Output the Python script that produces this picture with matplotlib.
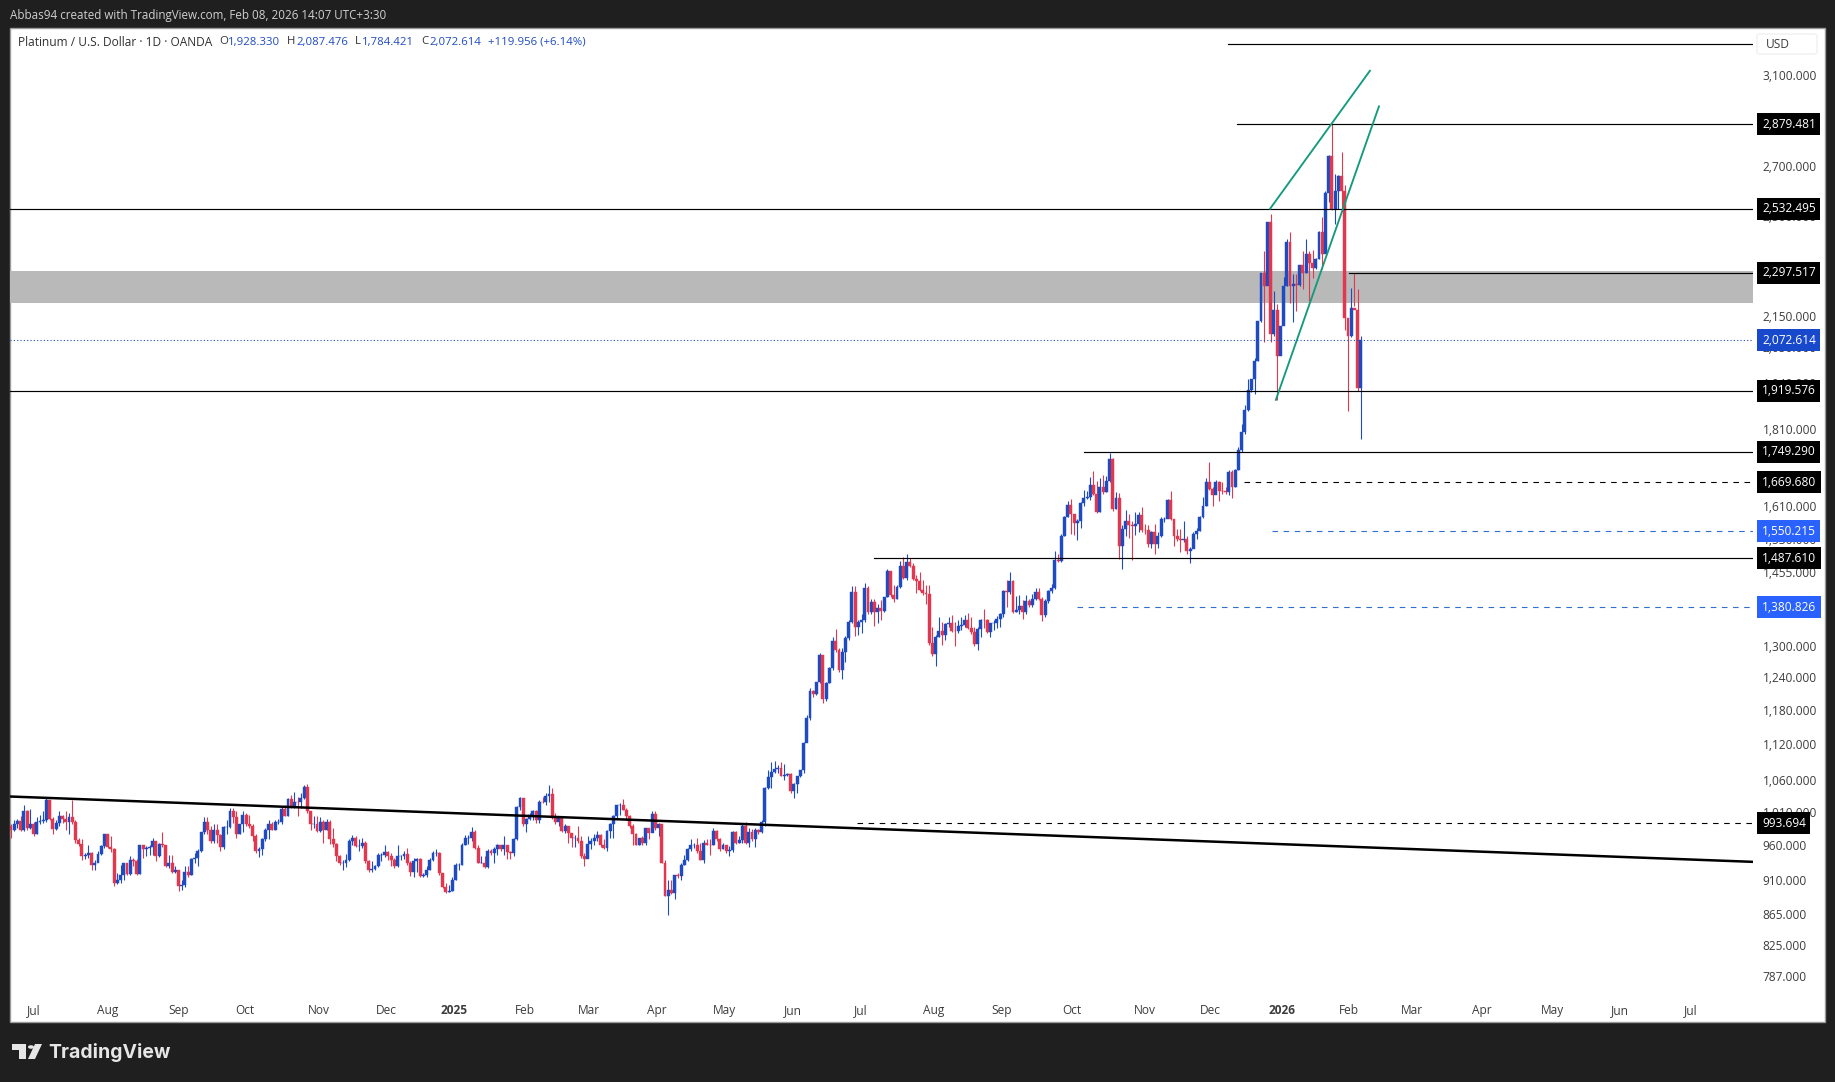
import matplotlib
matplotlib.use("Agg")
import matplotlib.pyplot as plt
from matplotlib.patches import Rectangle, Polygon, Circle, FancyBboxPatch
from matplotlib.ticker import NullLocator
from matplotlib.transforms import ScaledTranslation

# candles (one value per trading day)
closes = [
    984,992,997,983,1012,987,993,978,996,997,
    998,1029,1000,985,994,1005,1000,996,1003,996,
    968,963,945,947,949,933,935,948,960,977,
    959,956,908,911,919,935,920,940,938,920,
    961,956,957,959,967,946,963,961,931,936,
    923,926,903,905,923,919,941,942,953,980,
    996,983,967,984,976,959,988,988,1012,1003,
    978,992,1006,992,989,974,952,955,970,984,
    993,984,995,996,1015,1005,1031,1020,1027,1026,
    1033,1050,1012,992,992,982,996,984,996,970,
    963,945,935,936,939,967,972,960,960,964,
    938,925,927,931,947,947,951,945,939,931,
    945,945,948,936,922,938,941,917,919,926,
    940,950,950,921,902,895,896,
    912,933,933,962,971,971,980,957,936,936,
    930,953,950,956,961,956,961,951,950,970,
    1018,1033,992,1000,1006,1012,998,1027,1026,1036,
    1039,1002,996,1003,982,989,979,971,971,967,
    945,941,963,967,971,976,962,957,982,992,
    1005,1021,1022,1014,1004,990,977,962,971,964,
    987,979,1008,987,992,936,890,898,894,919,
    917,933,939,955,961,962,952,940,964,962,
    961,982,970,956,961,953,954,981,965,968,
    989,965,981,970,983,981,996,1048,1066,1075,
    1079,1081,1068,1070,1071,1043,1055,1067,1078,
    1122,1166,1216,1210,1232,1284,1200,1230,1258,1311,
    1294,1254,1290,1318,1350,1414,1339,1350,1354,1421,
    1371,1392,1371,1378,1373,1402,1459,1407,1399,1424,
    1471,1444,1479,1471,1442,1437,1418,1410,1409,1307,
    1286,1320,1332,1323,1345,1347,1332,1331,1341,1343,
    1355,1337,1330,1305,1335,1354,1353,1330,1347,1348,
    1357,1366,1416,1414,1437,1371,1374,1383,1371,1394,
    1385,1397,1414,1399,1364,1394,1416,1421,1483,1482,
    1539,1585,1613,1590,1569,1574,1619,1630,1633,1664,
    1641,1595,1657,1645,1672,1730,1603,1630,1516,1556,
    1574,1564,1563,1568,1588,1553,1552,1521,1547,1520,
    1539,1579,1580,1625,1579,1539,1531,1530,1531,1505,
    1509,1543,1550,1583,1611,1670,1653,1637,1670,1649,
    1648,1645,1696,1658,1702,1753,1802,1864,1923,1953,
    2009,2135,2297,2252,2482,2092,2172,2025,2119,2252,
    2407,2252,2258,2255,2323,2297,2362,2332,2315,2344,
    2443,2362,2594,2743,2533,2600,2660,2600,2145,2087,
    2178,2170,1928.33,2072.614,
]
highs = [
    992,999,1000,1004,1022,1014,1015,995,1003,1006,
    1013,1035,1029,1003,999,1012,1006,1012,1010,1029,
    999,972,970,950,962,951,940,952,962,978,
    977,975,957,921,932,936,936,946,942,941,
    962,959,960,962,972,967,965,980,962,947,
    947,931,926,912,931,931,942,950,956,981,
    1003,1003,989,992,992,978,989,998,1017,1017,
    1012,992,1012,1009,1006,992,977,959,972,987,
    999,996,999,1000,1020,1022,1033,1038,1042,1035,
    1040,1054,1055,1012,1004,1004,1003,999,1000,999,
    987,964,947,940,948,970,976,975,970,972,
    967,940,938,932,950,950,961,953,950,942,
    961,947,952,957,938,942,942,942,921,931,
    942,953,955,951,921,907,904,
    915,936,936,964,976,976,988,984,962,945,
    945,956,956,959,963,962,974,957,952,971,
    1020,1034,1031,1002,1010,1014,1014,1030,1034,1040,
    1054,1048,1009,1005,1003,992,990,979,976,989,
    975,950,974,971,977,982,977,970,983,994,
    1006,1022,1025,1031,1017,1006,992,979,972,975,
    987,987,1012,1012,994,982,940,912,912,919,
    921,935,947,957,970,964,971,964,968,970,
    970,987,983,972,964,962,960,982,982,975,
    992,996,987,985,987,985,999,1050,1078,1091,
    1092,1086,1090,1088,1073,1072,1056,1068,1078,
    1125,1172,1220,1218,1232,1287,1284,1233,1261,1320,
    1335,1297,1297,1321,1354,1426,1426,1354,1367,1433,
    1426,1397,1397,1388,1395,1403,1464,1457,1428,1428,
    1481,1490,1497,1488,1477,1449,1457,1439,1428,1428,
    1340,1323,1361,1350,1347,1361,1364,1350,1354,1361,
    1364,1369,1361,1340,1339,1357,1376,1357,1348,1354,
    1362,1369,1417,1439,1457,1439,1405,1407,1395,1407,
    1397,1409,1421,1421,1403,1397,1417,1431,1505,1498,
    1543,1587,1624,1628,1587,1579,1621,1650,1649,1683,
    1699,1674,1681,1689,1687,1745,1733,1645,1642,1564,
    1601,1590,1575,1597,1597,1609,1568,1564,1551,1568,
    1547,1585,1585,1627,1649,1579,1556,1556,1575,1539,
    1514,1547,1558,1587,1633,1681,1722,1657,1676,1674,
    1670,1658,1700,1700,1704,1761,1825,1878,1953,1955,
    2016,2135,2297,2373,2482,2512,2235,2189,2119,2281,
    2419,2443,2291,2291,2323,2373,2419,2376,2379,2350,
    2449,2500,2601,2750,2879,2670,2665,2760,2627,2145,
    2246,2297,2240,2087.476,
]
lows = [
    971,982,987,982,982,984,985,974,977,992,
    994,996,998,978,983,989,994,984,978,992,
    964,960,940,941,942,926,925,938,947,957,
    957,951,903,906,908,912,919,919,931,919,
    920,942,945,947,947,938,944,959,930,928,
    921,921,897,898,902,916,919,936,931,951,
    977,978,964,964,965,952,955,977,987,994,
    972,978,980,989,987,967,950,944,947,967,
    970,983,984,992,993,1004,1004,1017,1017,1004,
    1017,1031,1010,984,987,980,980,964,984,963,
    959,938,933,926,930,938,962,959,953,957,
    936,923,923,925,930,938,944,940,931,928,
    930,940,941,933,917,916,923,916,915,915,
    925,938,945,919,900,894,895,
    896,911,926,932,961,963,967,956,936,935,
    928,928,947,936,947,953,947,941,941,946,
    969,1014,989,981,998,999,994,994,1025,1022,
    1026,1000,992,990,980,979,965,959,959,964,
    942,931,942,956,962,967,959,956,952,972,
    972,1002,1006,1014,999,987,962,961,961,962,
    962,970,980,984,974,935,889,864,892,885,
    914,911,933,938,952,957,950,939,936,961,
    947,962,967,952,955,950,945,951,963,964,
    965,963,959,967,959,977,979,990,1047,1048,
    1072,1073,1067,1062,1067,1040,1033,1041,1066,
    1073,1131,1163,1205,1208,1230,1193,1197,1230,1254,
    1290,1251,1237,1271,1313,1347,1321,1323,1327,1350,
    1367,1367,1342,1347,1354,1371,1403,1403,1392,1399,
    1421,1442,1440,1467,1439,1410,1416,1407,1388,1303,
    1281,1263,1320,1303,1313,1340,1330,1301,1328,1334,
    1340,1335,1325,1301,1294,1320,1337,1327,1320,1334,
    1337,1339,1361,1381,1409,1369,1371,1367,1357,1366,
    1381,1381,1395,1395,1352,1361,1390,1411,1419,1479,
    1479,1539,1583,1543,1542,1529,1558,1611,1627,1626,
    1637,1593,1597,1641,1645,1670,1599,1603,1486,1464,
    1539,1535,1484,1542,1549,1549,1543,1512,1510,1497,
    1510,1537,1571,1582,1577,1516,1528,1501,1524,1497,
    1477,1510,1531,1550,1581,1611,1651,1611,1641,1624,
    1641,1641,1637,1630,1658,1700,1749,1797,1860,1917,
    1909,2009,2130,2068,2362,2068,2087,1893,2040,2135,
    2252,2195,2130,2168,2252,2240,2297,2201,2279,2310,
    2344,2310,2436,2560,2527,2475,2533,2533,2104,1860,
    2082,2183,1920,1784.421,
]
opens = [990] + closes[:-1]

price_ticks = [3100, 2880, 2700, 2500, 2150, 2050, 1940, 1810, 1680, 1610, 1530, 1455,
               1380, 1300, 1240, 1180, 1120, 1060, 1010, 960, 910, 865, 825, 787]
month_pos = [7.1, 29.9, 51.9, 72.7, 95.7, 116.4, 137.4, 159.4, 179.4, 200.4, 221.4, 242.8, 263.9,
             286.4, 307.4, 329.4, 352, 372.4, 394.4, 415.4, 434.9, 456.4, 478.4, 499.4, 521.4]
month_names = ["Jul", "Aug", "Sep", "Oct", "Nov", "Dec", "2025", "Feb", "Mar", "Apr", "May", "Jun",
               "Jul", "Aug", "Sep", "Oct", "Nov", "Dec", "2026", "Feb", "Mar", "Apr", "May", "Jun", "Jul"]

# horizontal drawings: price, first candle, style
solid_levels = [(3252, 377.7), (2879.481, 380.5), (2532.495, -0.3), (2297.517, 415.3),
                (1919.576, -0.3), (1749.290, 333), (1487.610, 268)]
black_dashed = [(1669.680, 382.7), (993.694, 262.6)]
blue_dashed = [(1550.215, 391.4), (1380.826, 331)]
last_price = 2072.614
zone = (2193, 2302)
trend_x, trend_y = [-0.3, 540.7], [1035, 937]
wedge_upper_x, wedge_upper_y = [390.8, 421.8], [2532, 3124]
wedge_lower_x, wedge_lower_y = [392.6, 424.6], [1893, 2959]

black_tags = [2879.481, 2532.495, 2297.517, 1919.576, 1749.290, 1669.680, 1487.610, 993.694]
blue_tags = [1550.215, 1380.826]

BLUE = "#1f4bc0"
RED = "#e2384f"
W, H = 1835, 1082
FONT = ["Open Sans", "DejaVu Sans"]
plt.rcParams["font.family"] = FONT

fig = plt.figure(figsize=(W / 100, H / 100), dpi=100, facecolor="#1f1f1f")


def fx(px):
    return px / W


def fy(py):
    return 1 - py / H


# white panel behind the axes and the price scale
fig.add_artist(Rectangle((fx(10), fy(1022)), fx(1815), 994 / H, transform=fig.transFigure,
                         facecolor="white", edgecolor="#9a9a9a", linewidth=1, zorder=-1))

ax = fig.add_axes([fx(10), fy(1022), 1743 / W, 994 / H])
ax.patch.set_alpha(0)
for side in ax.spines.values():
    side.set_visible(False)
ax.set_yscale("log")
ax.set_ylim(734.3, 3334)
ax.set_xlim(-0.3, 540.7)

xs = list(range(len(closes)))
cols = [BLUE if c >= o else RED for o, c in zip(opens, closes)]
ax.vlines(xs, lows, highs, colors=cols, linewidth=0.8, zorder=3)
ax.bar(xs, [abs(c - o) for o, c in zip(opens, closes)], bottom=[min(o, c) for o, c in zip(opens, closes)],
       width=0.9, color=cols, edgecolor=cols, linewidth=0.3, zorder=3)

ax.axhspan(zone[0], zone[1], color="#b9b9b9", linewidth=0, zorder=2)
for price, start in solid_levels:
    ax.plot([start, 540.7], [price, price], color="black", linewidth=0.85, zorder=5)
for price, start in black_dashed:
    ax.plot([start, 540.7], [price, price], color="black", linewidth=0.8, linestyle=(0, (5, 5)), zorder=5)
for price, start in blue_dashed:
    ax.plot([start, 540.7], [price, price], color="#2f6fd0", linewidth=0.8, linestyle=(0, (5, 5)), zorder=5)
ax.axhline(last_price, color="#1f4bc0", linewidth=0.8, linestyle=(0, (1, 2)), zorder=4)
ax.plot(trend_x, trend_y, color="black", linewidth=1.8, zorder=5)
ax.plot(wedge_upper_x, wedge_upper_y, color="#149a7c", linewidth=1.35, zorder=5)
ax.plot(wedge_lower_x, wedge_lower_y, color="#149a7c", linewidth=1.35, zorder=5)

ax.yaxis.tick_right()
ax.yaxis.set_minor_locator(NullLocator())
ax.set_yticks(price_ticks)
ax.set_yticklabels([f"{p:,.3f}" for p in price_ticks])
ax.tick_params(axis="y", length=0, pad=7, labelsize=8.6, labelcolor="#3c3c3c")
ax.set_xticks(month_pos)
ax.set_xticklabels(month_names)
ax.tick_params(axis="x", length=0, pad=-13, labelsize=8.6, labelcolor="#3c3c3c")
for lab in ax.get_xticklabels():
    if lab.get_text() in ("2025", "2026"):
        lab.set_fontweight("bold")
nudge = ScaledTranslation(0, 0.5 / 72, fig.dpi_scale_trans)
for lab in ax.get_yticklabels():
    lab.set_transform(lab.get_transform() + nudge)


def price_tag(value, face):
    ax.annotate(f"{value:,.3f}", xy=(1, value), xycoords=("axes fraction", "data"),
                xytext=(9, 0), textcoords="offset pixels", ha="left", va="center",
                color="white", fontsize=8.6, zorder=10, annotation_clip=False,
                bbox=dict(boxstyle="square,pad=0.38", facecolor=face, edgecolor="none"))


for v in black_tags:
    price_tag(v, "black")
for v in blue_tags:
    price_tag(v, "#2962ff")
price_tag(last_price, "#1848cc")

# USD box
fig.add_artist(FancyBboxPatch((fx(1757), fy(54)), 60 / W, 20 / H, transform=fig.transFigure,
                              boxstyle="round,pad=0,rounding_size=0.002", facecolor="white",
                              edgecolor="#f0f0f0", linewidth=1))
fig.text(fx(1766), fy(45), "USD", color="#3c3c3c", fontsize=8.6, va="center")

# header and legend line
fig.text(fx(10), fy(15), "Abbas94 created with TradingView.com, Feb 08, 2026 14:07 UTC+3:30",
         color="#d0d0d0", fontsize=8.35, va="center")
fig.text(fx(18), fy(42), "Platinum / U.S. Dollar · 1D · OANDA", color="#303030", fontsize=8.55, va="center")
legend_parts = [(219, "O", "#303030"), (228, "1,928.330", BLUE), (287, "H", "#303030"), (296, "2,087.476", BLUE),
                (354.5, "L", "#303030"), (362, "1,784.421", BLUE), (421, "C", "#303030"), (429, "2,072.614", BLUE),
                (488, "+119.956 (+6.14%)", BLUE)]
for px, txt, col in legend_parts:
    fig.text(fx(px), fy(42), txt, color=col, fontsize=8.2, va="center")

# TradingView mark
logo = "#e6e6e6"
fig.add_artist(Polygon([(fx(12), fy(1044)), (fx(26), fy(1044)), (fx(26), fy(1059)), (fx(19), fy(1059)),
                        (fx(19), fy(1050)), (fx(12), fy(1050))], closed=True, transform=fig.transFigure,
                       facecolor=logo, edgecolor="none"))
fig.add_artist(Polygon([(fx(35), fy(1044)), (fx(42), fy(1044)), (fx(35), fy(1059)), (fx(28), fy(1059))],
                       closed=True, transform=fig.transFigure, facecolor=logo, edgecolor="none"))
fig.add_artist(Circle((fx(31), fy(1047)), 3 / W, transform=fig.transFigure, facecolor=logo, edgecolor="none"))
fig.text(fx(48), fy(1053), "TradingView", color=logo, fontsize=14, fontweight="bold",
         family=["Inter", "DejaVu Sans"], va="center")

plt.savefig("out.png", dpi=100, facecolor=fig.get_facecolor())
